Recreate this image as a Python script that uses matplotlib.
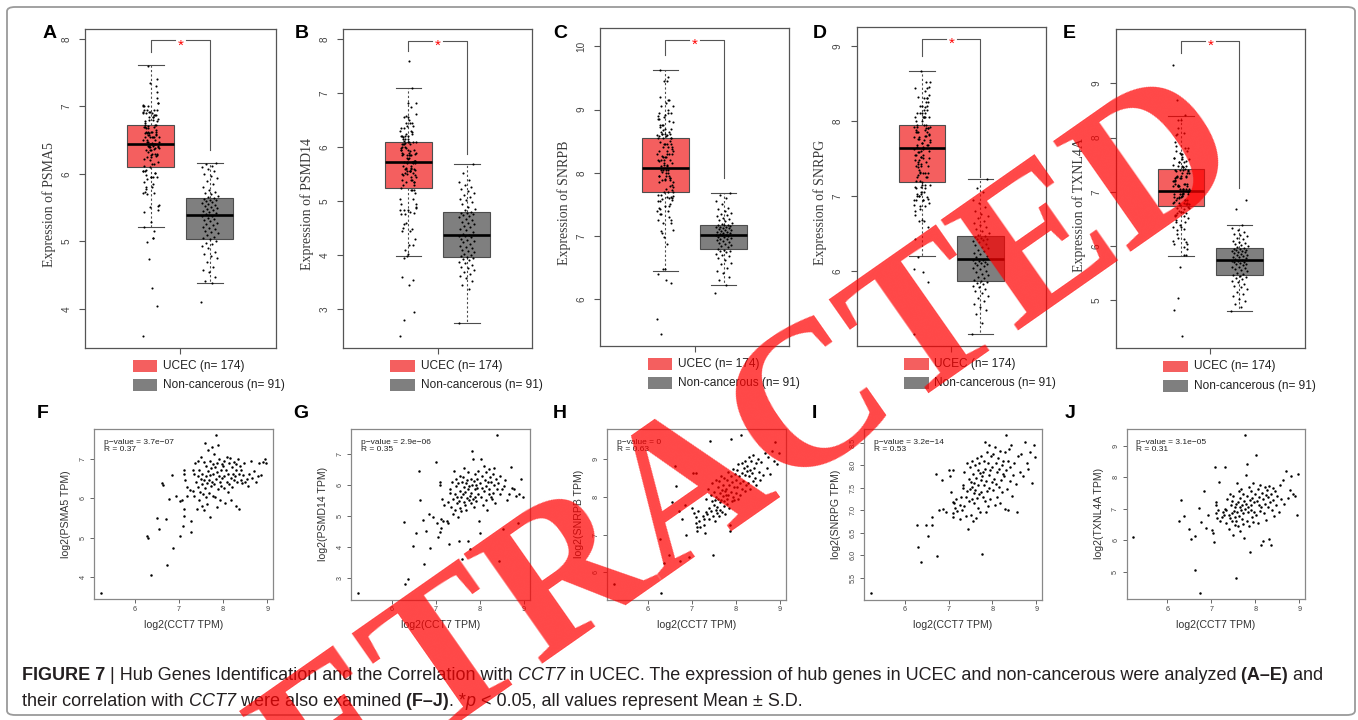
import numpy as np
import matplotlib
matplotlib.use('Agg')
import matplotlib.pyplot as plt
from matplotlib.patches import FancyBboxPatch, Rectangle

# ---------------- data ----------------
genes = ['PSMA5', 'PSMD14', 'SNRPB', 'SNRPG', 'TXNL4A']
top_letters = ['A', 'B', 'C', 'D', 'E']
bot_letters = ['F', 'G', 'H', 'I', 'J']
p_values = ['3.7e\u221207', '2.9e\u221206', '0', '3.2e\u221214', '3.1e\u221205']
r_values = ['0.37', '0.35', '0.63', '0.53', '0.31']
group_labels = ['UCEC (n= 174)', 'Non-cancerous (n= 91)']

# CCT7 expression of tumour samples (x of panels F-J)
cct7 = [5.22, 6.27, 6.30, 6.37, 6.49, 6.54, 6.62, 6.63, 6.71, 6.73, 6.77, 6.84, 6.87, 6.93, 7.01,
        7.03, 7.06, 7.09, 7.10, 7.10, 7.11, 7.12, 7.14, 7.17, 7.19, 7.25, 7.27, 7.28, 7.31, 7.32,
        7.33, 7.34, 7.36, 7.39, 7.40, 7.42, 7.43, 7.44, 7.46, 7.46, 7.48, 7.49, 7.50, 7.51, 7.53,
        7.53, 7.54, 7.56, 7.56, 7.57,
        7.58, 7.59, 7.60, 7.61, 7.62, 7.63, 7.64, 7.65, 7.66, 7.67, 7.68, 7.69, 7.70, 7.71, 7.72,
        7.73, 7.74, 7.75, 7.76, 7.77,
        7.78, 7.79, 7.80, 7.81, 7.82, 7.83, 7.84, 7.85, 7.86, 7.87, 7.88, 7.89, 7.90, 7.91, 7.92,
        7.93, 7.94, 7.95, 7.97, 7.98,
        8.00, 8.01, 8.02, 8.03, 8.05, 8.06, 8.08, 8.09, 8.10, 8.11, 8.13, 8.14, 8.15, 8.17, 8.18,
        8.20, 8.21, 8.22, 8.24, 8.25,
        8.26, 8.28, 8.29, 8.30, 8.32, 8.33, 8.35, 8.36, 8.38, 8.40, 8.41, 8.43, 8.45, 8.47, 8.50,
        8.53, 8.56, 8.58, 8.62, 8.66,
        8.70, 8.74, 8.78, 8.82, 8.86, 8.90, 8.94, 8.98]

# hub gene expression in UCEC tumours (same samples)
psma5_ucec = [3.60, 5.05, 4.99, 4.05, 5.51, 5.22, 6.37, 6.33, 5.46, 4.31, 5.98, 6.59, 4.74, 6.05, 5.05,
              5.93, 5.96, 5.29, 5.73, 6.72, 6.60, 5.54, 6.46, 6.06, 6.27, 6.21, 5.43, 5.15, 6.71, 6.18,
              6.62, 6.05, 6.88, 6.40, 5.72, 6.55, 6.95, 6.28, 5.95, 6.70, 6.15, 6.48, 7.05, 5.80, 6.35,
              6.62, 6.10, 6.92, 6.45, 5.70,
              7.40, 6.25, 6.55, 6.02, 6.80, 6.38, 5.85, 6.68, 7.22, 6.45, 6.12, 6.95, 6.58, 5.52, 6.30,
              6.75, 7.30, 6.42, 6.05, 6.85,
              6.60, 7.12, 6.35, 6.78, 6.02, 7.60, 6.48, 6.90, 5.78, 6.65, 7.35, 6.22, 6.55, 7.00, 6.40,
              5.95, 6.72, 6.30, 6.85, 6.50,
              6.80, 6.25, 6.95, 6.55, 5.88, 6.70, 6.42, 7.05, 6.15, 6.62, 6.88, 6.35, 7.02, 5.95, 6.50,
              6.78, 6.28, 6.60, 6.45, 6.92,
              6.55, 6.85, 5.80, 6.72, 6.40, 7.00, 5.72, 6.62, 6.82, 6.45, 6.70, 6.38, 6.58, 6.90, 6.42,
              6.48, 6.30, 6.62, 6.95, 6.50,
              6.68, 6.42, 6.55, 6.90, 6.58, 6.92, 7.00, 6.88]
psmd14_ucec = [2.51, 4.81, 2.80, 2.96, 4.03, 4.45, 6.45, 5.52, 4.88, 3.45, 4.50, 5.05, 3.98, 4.95, 6.75,
               4.76, 4.31, 6.09, 6.00, 4.49, 4.60, 4.89, 5.55, 4.83, 5.35, 4.83, 4.76, 5.45, 4.10, 5.75,
               5.85, 5.30, 6.10, 5.55, 5.05, 6.45, 5.72, 5.20, 5.95, 6.20, 5.40, 5.62, 4.95, 6.05, 5.48,
               4.19, 5.80, 5.25, 6.30, 5.60,
               5.15, 6.10, 3.60, 5.70, 6.25, 5.45, 5.92, 6.55, 5.35, 5.78, 6.05, 5.20, 6.15, 5.58, 4.19,
               5.88, 6.40, 5.50, 5.95, 5.65,
               3.95, 5.75, 6.20, 5.40, 7.10, 5.98, 6.82, 5.55, 6.12, 5.30, 5.85, 6.35, 5.62, 6.00, 5.48,
               5.90, 6.18, 5.72, 6.45, 4.83,
               4.45, 6.05, 5.60, 6.82, 5.90, 6.28, 5.35, 6.62, 5.80, 6.15, 5.52, 6.40, 5.95, 5.20, 6.08,
               5.70, 6.50, 5.85, 6.25, 5.60,
               6.10, 5.55, 6.35, 5.75, 6.55, 5.98, 5.40, 6.20, 5.88, 7.60, 6.05, 3.55, 5.70, 6.30, 5.85,
               4.58, 5.95, 6.15, 5.50, 5.72,
               6.57, 5.90, 5.85, 5.65, 4.78, 5.72, 6.20, 5.60]
snrpb_ucec = [5.69, 6.88, 5.45, 6.26, 6.47, 7.86, 8.82, 8.27, 7.63, 6.31, 7.42, 7.79, 6.98, 6.40, 7.70,
              8.62, 7.57, 8.62, 7.45, 7.30, 7.20, 7.10, 7.62, 7.35, 7.20, 7.48, 7.25, 7.40, 7.05, 7.60,
              7.95, 7.55, 8.20, 7.70, 7.40, 9.46, 8.05, 7.62, 7.88, 8.35, 7.48, 6.47, 7.78, 8.12, 7.35,
              7.92, 8.45, 7.65, 8.00, 7.58,
              7.72, 8.25, 7.95, 7.50, 8.40, 7.85, 8.10, 7.65, 8.55, 7.90, 8.18, 7.60, 8.02, 8.30, 7.75,
              8.48, 7.88, 8.15, 7.55, 8.05,
              8.20, 7.80, 8.45, 7.95, 8.65, 8.05, 7.70, 8.30, 7.08, 7.25, 8.12, 8.55, 9.51, 7.88, 8.38,
              8.00, 8.72, 7.92, 8.25, 8.60,
              8.45, 8.10, 8.70, 8.25, 8.85, 7.95, 8.55, 8.35, 8.05, 9.63, 8.62, 8.20, 8.90, 8.40, 8.75,
              8.15, 8.58, 8.95, 8.30, 8.68,
              8.80, 8.35, 9.05, 8.55, 8.70, 8.20, 8.95, 8.62, 8.40, 9.10, 8.75, 8.50, 8.88, 8.30, 9.00,
              8.65, 8.45, 8.92, 8.58, 9.15,
              8.75, 9.05, 8.60, 9.20, 8.95, 9.45, 8.85, 9.15]
snrpg_ucec = [5.16, 6.67, 6.19, 5.85, 6.68, 6.43, 6.86, 6.67, 7.81, 5.98, 7.00, 7.68, 7.03, 6.95, 7.88,
              7.76, 7.40, 7.18, 6.94, 7.90, 6.86, 7.15, 7.05, 7.25, 6.98, 7.12, 6.80, 7.30, 7.00, 7.50,
              7.55, 7.10, 7.85, 7.30, 6.88, 8.05, 7.42, 6.58, 7.70, 7.20, 7.95, 7.48, 6.90, 7.62, 8.10,
              7.25, 7.52, 6.75, 7.80, 7.38,
              7.60, 7.15, 8.00, 7.45, 6.82, 7.72, 8.15, 7.28, 7.90, 7.05, 7.55, 8.05, 7.35, 7.82, 6.95,
              7.68, 8.20, 7.40, 6.03, 7.75,
              7.85, 7.30, 8.10, 7.55, 8.52, 7.20, 7.92, 6.95, 7.65, 8.30, 7.42, 8.05, 7.10, 7.78, 8.45,
              7.50, 7.88, 7.25, 8.20, 7.62,
              7.95, 7.45, 8.25, 7.70, 7.12, 8.40, 7.58, 8.05, 7.30, 7.85, 8.15, 7.52, 7.92, 7.15, 8.32,
              7.68, 8.00, 7.40, 7.80, 8.10,
              7.75, 8.30, 7.02, 7.90, 8.67, 7.48, 8.10, 7.00, 8.35, 7.65, 7.95, 8.44, 7.32, 7.78, 8.05,
              7.58, 6.96, 8.20, 7.85, 8.25,
              7.76, 8.52, 8.05, 7.92, 8.30, 7.60, 8.44, 8.19]
txnl4a_ucec = [6.09, 6.62, 7.27, 6.78, 6.35, 6.04, 6.12, 5.04, 7.02, 4.33, 6.57, 7.56, 6.39, 6.80, 6.32,
               6.23, 5.95, 8.33, 7.21, 6.85, 7.10, 6.70, 6.95, 7.85, 6.60, 6.75, 6.90, 6.80, 8.33, 7.00,
               6.95, 6.55, 7.30, 6.80, 6.35, 7.45, 6.70, 7.10, 6.62, 7.25, 6.85, 6.15, 7.40, 6.92, 6.48,
               7.05, 6.75, 4.81, 7.15, 6.60,
               7.80, 6.90, 7.20, 6.45, 7.55, 6.78, 7.05, 6.30, 7.35, 6.95, 7.62, 6.68, 7.12, 6.52, 7.48,
               6.85, 6.08, 7.25, 9.34, 6.98,
               8.07, 7.15, 6.62, 7.40, 8.41, 6.88, 7.05, 7.70, 6.45, 7.28, 5.62, 6.95, 7.55, 7.10, 6.72,
               7.35, 6.58, 7.80, 6.90, 7.20,
               7.45, 8.69, 6.80, 7.25, 7.62, 6.55, 7.10, 7.38, 6.92, 7.75, 5.84, 7.05, 7.50, 5.99, 7.30,
               6.85, 7.70, 7.15, 7.42, 6.65,
               7.60, 7.05, 7.38, 6.04, 7.72, 7.20, 5.84, 7.48, 6.95, 7.65, 7.28, 6.78, 7.55, 7.10, 7.40,
               6.88, 7.75, 7.30, 7.92, 7.15,
               8.18, 7.35, 7.60, 8.05, 7.48, 7.40, 6.81, 8.09]

# hub gene expression in non-cancerous tissue
psma5_normal = [4.10, 4.39, 4.42, 4.48, 4.55, 4.58, 4.62, 4.70, 4.75, 4.78, 4.82, 4.85, 4.90, 4.93, 4.96,
                4.98, 5.01, 5.03, 5.05, 5.07, 5.10, 5.12, 5.14, 5.16, 5.18, 5.20, 5.22, 5.24, 5.26, 5.28,
                5.30, 5.32, 5.34, 5.35, 5.37, 5.38, 5.40, 5.42, 5.44, 5.45, 5.47, 5.48, 5.50, 5.51, 5.52,
                5.54, 5.55, 5.57, 5.58, 5.60, 5.61, 5.62, 5.63, 5.64, 5.66, 5.68, 5.70, 5.72, 5.74, 5.76,
                5.80, 5.85, 5.90, 5.94, 5.97, 6.00, 6.04, 6.08, 6.10, 6.12, 6.15, 6.17]
psmd14_normal = [2.75, 3.38, 3.45, 3.52, 3.58, 3.62, 3.66, 3.70, 3.73, 3.76, 3.79, 3.82, 3.85, 3.88, 3.91,
                 3.93, 3.95, 3.96, 3.98, 4.00, 4.03, 4.06, 4.08, 4.10, 4.13, 4.16, 4.18, 4.21, 4.24, 4.26,
                 4.29, 4.31, 4.33, 4.35, 4.36, 4.37, 4.40, 4.43, 4.46, 4.49, 4.52, 4.54, 4.57, 4.60, 4.62,
                 4.65, 4.68, 4.70, 4.72, 4.74, 4.76, 4.78, 4.79, 4.80, 4.83, 4.86, 4.90, 4.94, 4.98, 5.02,
                 5.05, 5.08, 5.12, 5.15, 5.18, 5.22, 5.26, 5.30, 5.35, 5.40, 5.52, 5.69]
snrpb_normal = [6.10, 6.23, 6.30, 6.35, 6.42, 6.45, 6.50, 6.55, 6.58, 6.62, 6.65, 6.68, 6.70, 6.72, 6.74,
                6.76, 6.77, 6.78, 6.80, 6.82, 6.84, 6.86, 6.87, 6.89, 6.90, 6.92, 6.93, 6.95, 6.96, 6.97,
                6.98, 6.99, 7.00, 7.01, 7.01, 7.02, 7.03, 7.04, 7.05, 7.06, 7.07, 7.08, 7.09, 7.10, 7.11,
                7.12, 7.13, 7.14, 7.15, 7.15, 7.16, 7.17, 7.17, 7.18, 7.19, 7.21, 7.23, 7.25, 7.27, 7.29,
                7.31, 7.33, 7.35, 7.37, 7.40, 7.42, 7.45, 7.50, 7.55, 7.60, 7.65, 7.68]
snrpg_normal = [5.16, 5.30, 5.42, 5.48, 5.52, 5.56, 5.60, 5.64, 5.67, 5.70, 5.73, 5.76, 5.78, 5.80, 5.82,
                5.84, 5.85, 5.86, 5.88, 5.90, 5.92, 5.94, 5.96, 5.98, 6.00, 6.02, 6.04, 6.06, 6.08, 6.09,
                6.10, 6.11, 6.12, 6.13, 6.14, 6.15, 6.18, 6.20, 6.22, 6.24, 6.26, 6.28, 6.30, 6.32, 6.34,
                6.36, 6.38, 6.40, 6.41, 6.42, 6.43, 6.44, 6.45, 6.46, 6.48, 6.50, 6.53, 6.56, 6.58, 6.61,
                6.64, 6.67, 6.70, 6.73, 6.76, 6.80, 6.85, 6.90, 6.95, 7.05, 7.10, 7.22]
txnl4a_normal = [4.80, 4.88, 4.93, 4.98, 5.03, 5.08, 5.12, 5.16, 5.20, 5.24, 5.27, 5.30, 5.33, 5.36, 5.39,
                 5.41, 5.43, 5.45, 5.47, 5.49, 5.51, 5.53, 5.55, 5.57, 5.59, 5.61, 5.62, 5.64, 5.66, 5.67,
                 5.69, 5.70, 5.71, 5.72, 5.73, 5.74, 5.76, 5.77, 5.79, 5.80, 5.82, 5.83, 5.84, 5.86, 5.87,
                 5.88, 5.89, 5.90, 5.91, 5.92, 5.93, 5.94, 5.95, 5.96, 5.98, 6.00, 6.02, 6.04, 6.06, 6.08,
                 6.10, 6.12, 6.15, 6.18, 6.20, 6.23, 6.26, 6.30, 6.34, 6.38, 6.68, 6.85]

ucec = [psma5_ucec, psmd14_ucec, snrpb_ucec, snrpg_ucec, txnl4a_ucec]
normal = [psma5_normal, psmd14_normal, snrpb_normal, snrpg_normal, txnl4a_normal]

# box statistics [UCEC, non-cancerous]
box_med = [[6.45, 5.39], [5.72, 4.38], [8.08, 7.02], [7.64, 6.16], [7.01, 5.75]]
box_q1 = [[6.11, 5.04], [5.25, 3.97], [7.70, 6.79], [7.19, 5.87], [6.74, 5.46]]
box_q3 = [[6.73, 5.64], [6.10, 4.81], [8.55, 7.18], [7.94, 6.46], [7.42, 5.96]]
whis_lo = [[5.22, 4.39], [3.98, 2.75], [6.44, 6.23], [6.20, 5.16], [5.81, 4.80]]
whis_hi = [[7.61, 6.17], [7.10, 5.69], [9.62, 7.68], [8.66, 7.22], [8.40, 6.38]]
bracket_top = [7.98, 7.97, 10.10, 9.09, 9.78]
bracket_left = [7.81, 7.78, 9.87, 8.87, 9.56]
bracket_right = [6.36, 5.87, 7.91, 7.25, 7.07]

scatter_xticks = [6, 7, 8, 9]
scatter_yticks = [[4, 5, 6, 7], [3, 4, 5, 6, 7], [6, 7, 8, 9],
                  [5.5, 6.0, 6.5, 7.0, 7.5, 8.0, 8.5], [5, 6, 7, 8, 9]]
scatter_yticklabels = [['4', '5', '6', '7'], ['3', '4', '5', '6', '7'], ['6', '7', '8', '9'],
                       ['5.5', '6.0', '6.5', '7.0', '7.5', '8.0', '8.5'], ['5', '6', '7', '8', '9']]

# ---------------- layout / style ----------------
W, H = 1358, 720
fig = plt.figure(figsize=(W / 100, H / 100), dpi=100)
fig.patch.set_facecolor('white')
PX = 0.72  # points per pixel

SANS = ['Liberation Sans', 'DejaVu Sans']
SERIF = ['Liberation Serif', 'DejaVu Serif']
RED = '#F45F5F'
GREY = '#7F7F7F'
EDGE = '#4d4d4d'

top_px = [(85, 28.5, 275.5, 347.8), (343, 28.8, 532, 347.7), (600, 28.3, 789, 345.7),
          (856.5, 27.3, 1046, 345.7), (1115.5, 29.3, 1305, 348.3)]
bot_px = [(94, 428.5, 273, 599.4), (351, 428.8, 529.5, 599.6), (607, 428.5, 785.5, 599.6),
          (864, 428.5, 1042, 599.6), (1126.6, 428.5, 1305, 599.2)]
top_letter_x = [43, 295, 553, 813, 1063]
bot_letter_x = [37, 293, 553, 812, 1065]


def fx(px):
    return px / W


def fy(py):
    return 1 - py / H


def add_ax(x0, y0, x1, y1):
    return fig.add_axes([fx(x0), fy(y1), (x1 - x0) / W, (y1 - y0) / H])


def rlim(vals):
    lo, hi = min(vals), max(vals)
    d = (hi - lo) * 0.04
    return lo - d, hi + d


# frame round figure
frame = FancyBboxPatch((fx(7), fy(715)), (1355 - 7) / W, (715 - 7) / H,
                       boxstyle='round,pad=0,rounding_size=0.006', transform=fig.transFigure,
                       ec='#9a9a9a', fc='none', lw=1.3, zorder=0)
fig.add_artist(frame)

# ---------------- box plots A-E ----------------
for i in range(5):
    x0, y0, x1, y1 = top_px[i]
    ax = add_ax(x0, y0, x1, y1)
    stats = [dict(med=box_med[i][g], q1=box_q1[i][g], q3=box_q3[i][g],
                  whislo=whis_lo[i][g], whishi=whis_hi[i][g], fliers=[]) for g in range(2)]
    bp = ax.bxp(stats, positions=[1, 2], widths=0.8, patch_artist=True, showfliers=False,
                capwidths=0.44, manage_ticks=False, zorder=2,
                boxprops=dict(edgecolor=EDGE, linewidth=0.8),
                medianprops=dict(color='black', linewidth=1.9),
                whiskerprops=dict(color=EDGE, linewidth=0.8, linestyle=(0, (2, 2))),
                capprops=dict(color=EDGE, linewidth=0.8))
    for patch, c in zip(bp['boxes'], [RED, GREY]):
        patch.set_facecolor(c)
    for g, vals in enumerate([ucec[i], normal[i]]):
        n = len(vals)
        off = ((np.arange(n) * 0.6180339887) % 1 - 0.5) * 0.28
        ax.scatter(g + 1 + off, vals, s=2.3, c='black', linewidths=0, zorder=3)
    # significance bracket
    t = bracket_top[i]
    ax.plot([1, 1, 1.41], [bracket_left[i], t, t], color='#555555', lw=0.8, zorder=2)
    ax.plot([1.59, 2, 2], [t, t, bracket_right[i]], color='#555555', lw=0.8, zorder=2)
    ax.annotate('*', xy=(1.5, t), xytext=(0, -6.5), textcoords='offset points',
                ha='center', va='baseline', color='red', fontsize=11, family=SANS)
    allv = list(ucec[i]) + list(normal[i]) + [t]
    ax.set_ylim(rlim(allv))
    ax.set_xlim(-0.12, 3.12)
    ax.set_xticks([1.5])
    ax.set_xticklabels([''])
    ax.yaxis.set_major_locator(plt.MultipleLocator(1))
    ax.tick_params(axis='both', direction='out', length=6 * PX, width=0.8, color='#555555',
                   labelsize=7.2, labelcolor='#444444')
    ax.tick_params(axis='y', labelrotation=90, pad=5.5)
    for lab in ax.get_yticklabels():
        lab.set_family(SANS)
        lab.set_va('center')
    for sp in ax.spines.values():
        sp.set_color('#555555')
        sp.set_linewidth(0.9)
    # y label
    fig.text(fx(x0 - 36), fy((y0 + y1) / 2 + 16), 'Expression of ' + genes[i], rotation=90,
             ha='center', va='center', family=SERIF, fontsize=10, color='#3a3a3a')
    # panel letter
    fig.text(fx(top_letter_x[i]), fy(33), top_letters[i], ha='left', va='center',
             family=SANS, fontweight='bold', fontsize=14, color='black')
    # legend
    lx = x0 + 47.5
    for g, (c, lab) in enumerate(zip([RED, GREY], group_labels)):
        ty = y1 + 12.3 + g * 19.3
        fig.add_artist(Rectangle((fx(lx), fy(ty + 11.7)), 24.5 / W, 11.7 / H,
                                 transform=fig.transFigure, fc=c, ec='none'))
        fig.text(fx(lx + 30.5), fy(ty + 5.9), lab, ha='left', va='center', family=SANS,
                 fontsize=8.6, color='#222222')

# ---------------- scatter plots F-J ----------------
for i in range(5):
    x0, y0, x1, y1 = bot_px[i]
    ax = add_ax(x0, y0, x1, y1)
    ax.scatter(cct7, ucec[i], s=3.2, c='black', linewidths=0, zorder=3)
    ax.set_xlim(rlim(cct7))
    ax.set_ylim(rlim(ucec[i]))
    ax.set_xticks(scatter_xticks)
    ax.set_xticklabels([str(v) for v in scatter_xticks])
    ax.set_yticks(scatter_yticks[i])
    ax.set_yticklabels(scatter_yticklabels[i])
    ax.tick_params(axis='both', direction='out', length=4 * PX, width=0.7, color='#666666',
                   labelsize=5.2, labelcolor='#444444', pad=2.0)
    ax.tick_params(axis='y', labelrotation=90, pad=2.5)
    for lab in ax.get_yticklabels() + ax.get_xticklabels():
        lab.set_family(SANS)
    for lab in ax.get_yticklabels():
        lab.set_va('center')
    for sp in ax.spines.values():
        sp.set_color('#888888')
        sp.set_linewidth(0.9)
    ax.text(0.055, 0.94, 'p\u2212value = ' + p_values[i] + '\nR = ' + r_values[i],
            transform=ax.transAxes, ha='left', va='top', fontsize=6.0, family=SANS,
            color='#222222', linespacing=1.05)
    fig.text(fx(x0 - 28), fy((y0 + y1) / 2), 'log2(' + genes[i] + ' TPM)', rotation=90,
             ha='center', va='center', family=SANS, fontsize=7.6, color='#333333')
    fig.text(fx((x0 + x1) / 2), fy(625), 'log2(CCT7 TPM)', ha='center', va='center',
             family=SANS, fontsize=7.6, color='#333333')
    fig.text(fx(bot_letter_x[i]), fy(413), bot_letters[i], ha='left', va='center',
             family=SANS, fontweight='bold', fontsize=14, color='black')

# ---------------- caption ----------------
cap_ax = fig.add_axes([0, 0, 1, 1])
cap_ax.set_axis_off()
cap_ax.set_zorder(5)
CAP_FAM = ['Liberation Sans Narrow', 'Liberation Sans', 'DejaVu Sans']
caption_lines = [
    [('FIGURE 7', 'bold', 'normal'),
     (' | Hub Genes Identification and the Correlation with', 'normal', 'normal'),
     (' CCT7', 'normal', 'italic'),
     (' in UCEC. The expression of hub genes in UCEC and non-cancerous were analyzed', 'normal', 'normal'),
     (' (A\u2013E)', 'bold', 'normal'),
     (' and', 'normal', 'normal')],
    [('their correlation with', 'normal', 'normal'),
     (' CCT7', 'normal', 'italic'),
     (' were also examined', 'normal', 'normal'),
     (' (F\u2013J)', 'bold', 'normal'),
     ('. *', 'normal', 'normal'),
     ('p', 'normal', 'italic'),
     (' < 0.05, all values represent Mean \u00b1 S.D.', 'normal', 'normal')],
]
cap_y = [675, 701]
fs0 = 12.0
cap_texts = []
for li, pieces in enumerate(caption_lines):
    prev = None
    row = []
    for s, w, st in pieces:
        kw = dict(fontweight=w, fontstyle=st, family=CAP_FAM, fontsize=fs0, color='#231f20')
        if prev is None:
            t = cap_ax.text(fx(22), fy(cap_y[li]), s, transform=fig.transFigure,
                            ha='left', va='center', **kw)
        else:
            t = cap_ax.annotate(s, xy=(1, 0), xycoords=prev, ha='left', va='bottom', **kw)
        prev = t
        row.append(t)
    cap_texts.append(row)

fig.canvas.draw()
r = fig.canvas.get_renderer()
w1 = cap_texts[0][-1].get_window_extent(r).x1 - cap_texts[0][0].get_window_extent(r).x0
scale = (1322 - 22) / w1
for row in cap_texts:
    for t in row:
        t.set_fontsize(fs0 * scale)

# ---------------- watermark ----------------
fig.text(fx(692), fy(496), 'RETRACTED', rotation=35, rotation_mode='anchor', ha='center',
         va='center', fontsize=148, fontweight='bold', family=SERIF, color='red', alpha=0.72,
         zorder=100)

fig.savefig('out.png', dpi=100, facecolor='white')
